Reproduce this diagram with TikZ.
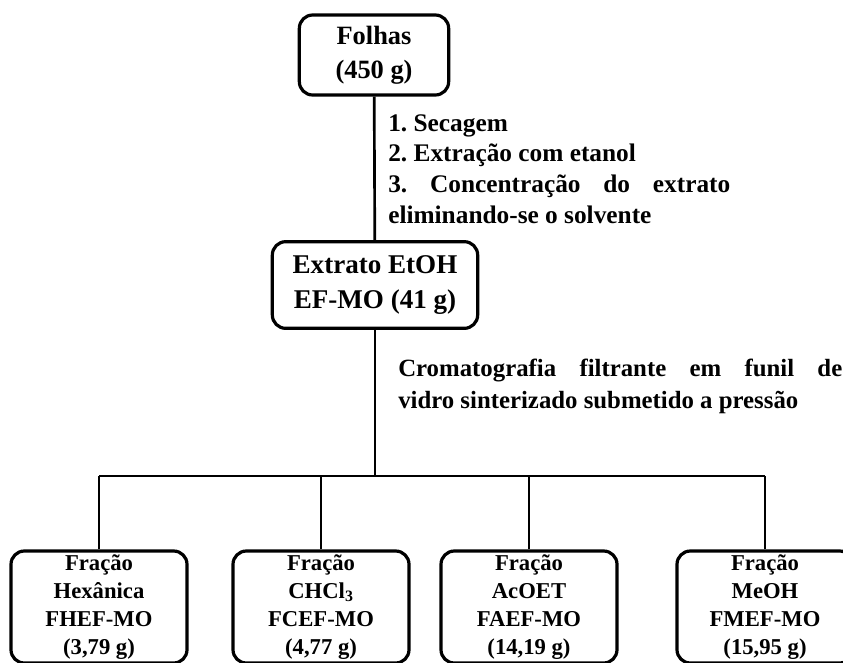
\documentclass[tikz,border=0pt]{standalone}
\usepackage{fontspec}
\setmainfont{Liberation Serif}
\usetikzlibrary{calc}

\tikzset{
  caixa/.style={draw, line width=2.4pt, rounded corners=10pt, align=center, inner sep=0pt,
    font=\bfseries\fontsize{19.8}{25.5}\selectfont},
  fracao/.style={caixa, minimum width=132pt, minimum height=84pt,
    font=\bfseries\fontsize{17}{21}\selectfont},
  passos/.style={anchor=west, inner sep=0pt, align=justify,
    font=\bfseries\frenchspacing\fontsize{19}{23}\selectfont},
  liga/.style={line width=2pt}
}

\begin{document}
\begin{tikzpicture}[x=0.75pt, y=-0.75pt]
\clip (0,0) rectangle (843,662);

% caixas de cima
\node[caixa, minimum width=112pt, minimum height=60pt] (folhas) at (374,55) {Folhas\\(450 g)};
\node[caixa, minimum width=154pt, minimum height=65pt, font=\bfseries\fontsize{20.3}{26}\selectfont]
  (extrato) at (375,285) {Extrato EtOH\\EF-MO (41 g)};
\coordinate (juncao) at (375,476);

\draw[liga] (folhas) -- (extrato);
\draw[liga] (extrato) -- (juncao);

% textos das etapas
\node[passos, text width=256.5pt] (etapas) at (388,169)
  {1. Secagem\\2. Extração com etanol\\3. Concentração do extrato\linebreak eliminando-se o solvente};
\node[passos, text width=333pt, font=\bfseries\fontsize{18.6}{24}\selectfont] (croma) at (398,386)
  {Cromatografia filtrante em funil de\linebreak vidro sinterizado submetido a pressão};

% frações
\foreach \i/\x/\nome/\sigla/\massa in {1/99/Hexânica/FHEF-MO/{3,79},
    2/321/CHCl\textsubscript{3}/FCEF-MO/{4,77},
    3/529/AcOET/FAEF-MO/{14,19},
    4/765/MeOH/FMEF-MO/{15,95}} {
  \node[fracao] (f\i) at (\x,607) {Fração\\\nome\\\sigla\\(\massa\ g)};
}
\draw[liga] (f1.north |- juncao) -- (f4.north |- juncao);
\foreach \i in {1,...,4}
  \draw[liga] (f\i.north) -- (f\i.north |- juncao);
\end{tikzpicture}
\end{document}
